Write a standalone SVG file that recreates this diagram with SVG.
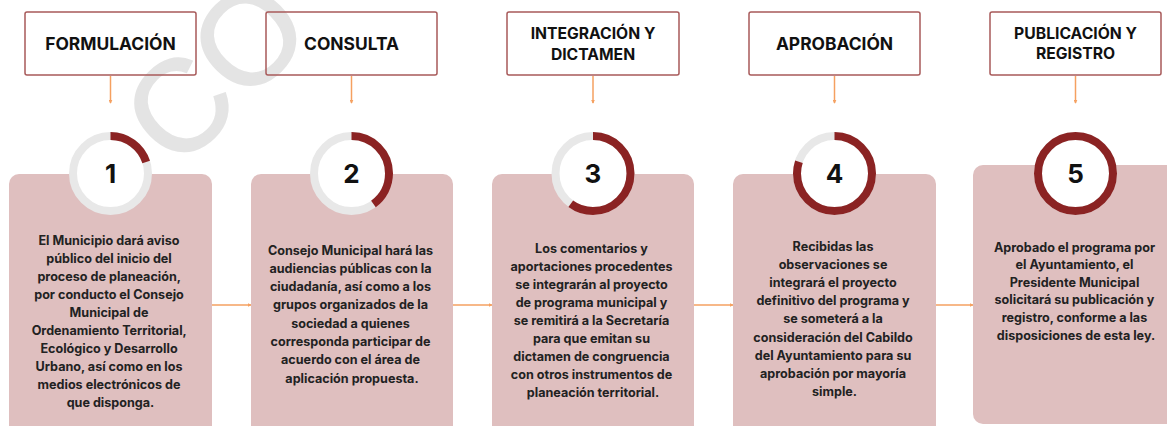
<svg xmlns="http://www.w3.org/2000/svg" width="1167" height="426" viewBox="0 0 1167 426">
  <style>
    .hdr { fill: #ffffff; fill-opacity: 0; stroke: #a85a5a; stroke-width: 1.5; }
    .htxt { font-family: Inter, "Liberation Sans", sans-serif; font-weight: 700; font-size: 17.4px; fill: #111; text-anchor: middle; }
    .htxt2 { font-family: Inter, "Liberation Sans", sans-serif; font-weight: 700; font-size: 15.7px; fill: #111; text-anchor: middle; }
    .card { fill: #dfbfbf; }
    .ctxt { font-family: Inter, "Liberation Sans", sans-serif; font-weight: 700; font-size: 12.6px; fill: #222; text-anchor: middle; }
    .ring { fill: #ffffff; stroke: #e8e8e8; stroke-width: 8; }
    .prog { fill: none; stroke: #8b2323; stroke-width: 8; }
    .num { font-family: Inter, "Liberation Sans", sans-serif; font-weight: 700; font-size: 26px; fill: #111; text-anchor: middle; }
    .conn { stroke: #f5a060; stroke-width: 1.5; fill: none; }
    .wm { font-family: "Liberation Sans", sans-serif; font-size: 130px; fill: #e4e4e4; stroke: #e4e4e4; stroke-width: 2; }
  </style>
  <defs>
    <marker id="arr" viewBox="0 0 6 6" refX="5" refY="3" markerWidth="4" markerHeight="4" orient="auto" markerUnits="userSpaceOnUse">
      <path d="M0,0 L6,3 L0,6 Z" fill="#f5a060"/>
    </marker>
  </defs>

  <text class="wm" transform="translate(178,172) rotate(-45)">CO</text>

  <g id="connectors">
    <line class="conn" x1="110.5" y1="76" x2="110.5" y2="103" marker-end="url(#arr)"/>
    <line class="conn" x1="351.5" y1="76" x2="351.5" y2="103" marker-end="url(#arr)"/>
    <line class="conn" x1="593" y1="76" x2="593" y2="103" marker-end="url(#arr)"/>
    <line class="conn" x1="834.5" y1="76" x2="834.5" y2="103" marker-end="url(#arr)"/>
    <line class="conn" x1="1075.5" y1="76" x2="1075.5" y2="103" marker-end="url(#arr)"/>
    <line class="conn" x1="212" y1="305" x2="251" y2="305" marker-end="url(#arr)"/>
    <line class="conn" x1="453" y1="305" x2="492" y2="305" marker-end="url(#arr)"/>
    <line class="conn" x1="694" y1="305" x2="733" y2="305" marker-end="url(#arr)"/>
    <line class="conn" x1="936" y1="305" x2="973" y2="305" marker-end="url(#arr)"/>
  </g>

  <g id="step1">
    <rect class="hdr" x="25" y="12" width="171" height="63" rx="2"/>
    <text class="htxt" x="110.5" y="50">FORMULACIÓN</text>
    <rect class="card" x="9" y="174" width="203" height="270" rx="10"/>
    <circle class="ring" cx="110.5" cy="173.5" r="37.5"/>
    <circle class="prog" cx="110.5" cy="173.5" r="37.5" stroke-dasharray="47.1 300" transform="rotate(-90 110.5 173.5)"/>
    <text class="num" x="110.5" y="183">1</text>
    <text class="ctxt" x="110.5">
      <tspan x="110.5" y="244.5">El Municipio dará aviso</tspan>
      <tspan x="110.5" y="262.5">público del inicio del</tspan>
      <tspan x="110.5" y="280.5">proceso de planeación,</tspan>
      <tspan x="110.5" y="298.5">por conducto el Consejo</tspan>
      <tspan x="110.5" y="316.5">Municipal de</tspan>
      <tspan x="110.5" y="334.5">Ordenamiento Territorial,</tspan>
      <tspan x="110.5" y="352.5">Ecológico y Desarrollo</tspan>
      <tspan x="110.5" y="370.5">Urbano, así como en los</tspan>
      <tspan x="110.5" y="388.5">medios electrónicos de</tspan>
      <tspan x="110.5" y="406.5">que disponga.</tspan>
    </text>
  </g>

  <g id="step2">
    <rect class="hdr" x="266" y="12" width="171" height="63" rx="2"/>
    <text class="htxt" x="351.5" y="50">CONSULTA</text>
    <rect class="card" x="251" y="174" width="202" height="270" rx="10"/>
    <circle class="ring" cx="351.5" cy="173.5" r="37.5"/>
    <circle class="prog" cx="351.5" cy="173.5" r="37.5" stroke-dasharray="94.2 300" transform="rotate(-90 351.5 173.5)"/>
    <text class="num" x="351.5" y="183">2</text>
    <text class="ctxt" x="352">
      <tspan x="352" y="254.5">Consejo Municipal hará las</tspan>
      <tspan x="352" y="272.8">audiencias públicas con la</tspan>
      <tspan x="352" y="291.1">ciudadanía, así como a los</tspan>
      <tspan x="352" y="309.4">grupos organizados de la</tspan>
      <tspan x="352" y="327.7">sociedad a quienes</tspan>
      <tspan x="352" y="346">corresponda participar de</tspan>
      <tspan x="352" y="364.3">acuerdo con el área de</tspan>
      <tspan x="352" y="382.6">aplicación propuesta.</tspan>
    </text>
  </g>

  <g id="step3">
    <rect class="hdr" x="507" y="12" width="172" height="63" rx="2"/>
    <text class="htxt2" x="593" y="39">INTEGRACIÓN Y</text>
    <text class="htxt2" x="593" y="60">DICTAMEN</text>
    <rect class="card" x="492" y="174" width="202" height="270" rx="10"/>
    <circle class="ring" cx="593" cy="173.5" r="37.5"/>
    <circle class="prog" cx="593" cy="173.5" r="37.5" stroke-dasharray="141.4 300" transform="rotate(-90 593 173.5)"/>
    <text class="num" x="593" y="183">3</text>
    <text class="ctxt" x="593">
      <tspan x="593" y="252.5">Los comentarios y</tspan>
      <tspan x="593" y="270.6">aportaciones procedentes</tspan>
      <tspan x="593" y="288.7">se integrarán al proyecto</tspan>
      <tspan x="593" y="306.8">de programa municipal y</tspan>
      <tspan x="593" y="324.9">se remitirá a la Secretaría</tspan>
      <tspan x="593" y="343">para que emitan su</tspan>
      <tspan x="593" y="361.1">dictamen de congruencia</tspan>
      <tspan x="593" y="379.2">con otros instrumentos de</tspan>
      <tspan x="593" y="397.3">planeación territorial.</tspan>
    </text>
  </g>

  <g id="step4">
    <rect class="hdr" x="749" y="12" width="171" height="63" rx="2"/>
    <text class="htxt" x="834.5" y="50">APROBACIÓN</text>
    <rect class="card" x="733" y="174" width="203" height="270" rx="10"/>
    <circle class="ring" cx="834.5" cy="173.5" r="37.5"/>
    <circle class="prog" cx="834.5" cy="173.5" r="37.5" stroke-dasharray="188.5 300" transform="rotate(-90 834.5 173.5)"/>
    <text class="num" x="834.5" y="183">4</text>
    <text class="ctxt" x="834.5">
      <tspan x="834.5" y="250.5">Recibidas las</tspan>
      <tspan x="834.5" y="268.7">observaciones se</tspan>
      <tspan x="834.5" y="286.9">integrará el proyecto</tspan>
      <tspan x="834.5" y="305.1">definitivo del programa y</tspan>
      <tspan x="834.5" y="323.3">se someterá a la</tspan>
      <tspan x="834.5" y="341.5">consideración del Cabildo</tspan>
      <tspan x="834.5" y="359.7">del Ayuntamiento para su</tspan>
      <tspan x="834.5" y="377.9">aprobación por mayoría</tspan>
      <tspan x="834.5" y="396.1">simple.</tspan>
    </text>
  </g>

  <g id="step5">
    <rect class="hdr" x="990" y="12" width="171" height="63" rx="2"/>
    <text class="htxt2" x="1075.5" y="39">PUBLICACIÓN Y</text>
    <text class="htxt2" x="1075.5" y="58.5">REGISTRO</text>
    <rect class="card" x="973" y="165" width="210" height="259" rx="10"/>
    <circle class="ring" cx="1075.5" cy="173.5" r="37.5"/>
    <circle class="prog" cx="1075.5" cy="173.5" r="37.5"/>
    <text class="num" x="1075.5" y="183">5</text>
    <text class="ctxt" x="1076">
      <tspan x="1076" y="251.5">Aprobado el programa por</tspan>
      <tspan x="1076" y="269.1">el Ayuntamiento, el</tspan>
      <tspan x="1076" y="286.7">Presidente Municipal</tspan>
      <tspan x="1076" y="304.3">solicitará su publicación y</tspan>
      <tspan x="1076" y="321.9">registro, conforme a las</tspan>
      <tspan x="1076" y="339.5">disposiciones de esta ley.</tspan>
    </text>
  </g>
</svg>
